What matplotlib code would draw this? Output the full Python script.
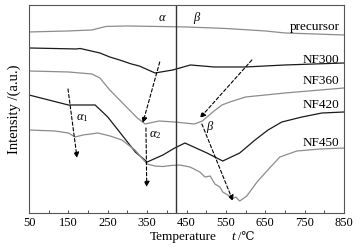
import numpy as np
import matplotlib
matplotlib.use('Agg')
import matplotlib.pyplot as plt

plt.rcParams['font.family'] = ['Liberation Serif', 'DejaVu Serif', 'DejaVu Sans']
plt.rcParams['mathtext.fontset'] = 'custom'
plt.rcParams['mathtext.rm'] = 'Liberation Serif'
plt.rcParams['mathtext.it'] = 'Liberation Serif:italic'

# curves (intensity in arbitrary units)
t_pre = [50, 150, 210, 245, 300, 450, 550, 650, 700, 850]
y_pre = [181, 182, 183, 186.5, 187, 186, 184.5, 182, 180, 178]

t_300 = [50, 170, 180, 230, 255, 280, 310, 330, 370, 415, 460, 520, 600, 700, 850]
y_300 = [165, 164, 164.5, 160, 156, 153, 149, 147, 140, 143, 148, 146, 146, 148, 150]

t_360 = [50, 150, 210, 230, 255, 300, 325, 345, 380, 420, 470, 490, 520, 540, 560, 600, 700, 850]
y_360 = [142, 141, 139, 135, 123, 105, 95, 89, 92, 91, 89, 92, 102, 108, 111, 116, 120, 125]

t_420 = [50, 150, 218, 250, 320, 350, 390, 420, 446, 502, 542, 585, 624, 657, 692, 743, 794, 850]
y_420 = [118, 108, 108, 96, 61, 51, 58, 65, 70, 60, 52, 60, 73, 83, 91, 96, 100, 101]

t_450 = [50, 116, 150, 167, 187, 225, 256, 286, 319, 350, 370, 390, 410, 433, 459, 484, 497,
         510, 522, 535, 542, 555, 565, 575, 585, 603, 629, 654, 687, 730, 789, 850]
y_450 = [83, 82, 80, 76, 78, 80, 77, 73, 63, 49, 47, 46.5, 47.5, 48, 46, 41, 36,
         37, 29, 26, 21, 18, 14, 16, 12, 17, 31, 42, 56, 62, 64, 65]

names = ['precursor', 'NF300', 'NF360', 'NF420', 'NF450']
label_y = [186, 153, 132, 108, 70]
dark = '#1a1a1a'
grey = '#8c8c8c'

fig = plt.figure(figsize=(3.6, 2.48), dpi=100)
ax = fig.add_axes([0.0806, 0.141, 0.875, 0.839])

ax.plot(t_pre, y_pre, color=grey, lw=0.9)
ax.plot(t_300, y_300, color=dark, lw=0.9)
ax.plot(t_360, y_360, color=grey, lw=0.9)
ax.plot(t_420, y_420, color=dark, lw=0.9)
ax.plot(t_450, y_450, color=grey, lw=0.9)

ax.axvline(423, color='#333333', lw=1.0)

for n, yy in zip(names, label_y):
    ax.text(839, yy, n, ha='right', va='center', fontsize=9.5)

# dashed arrows
arrows = [((149, 124), (172, 55)),
          ((382, 151), (339, 90)),
          ((347, 85), (349, 26)),
          ((616, 153), (484, 95)),
          ((489, 89), (568, 12))]
for (x0, y0), (x1, y1) in arrows:
    ax.annotate('', xy=(x1, y1), xytext=(x0, y0),
                arrowprops=dict(arrowstyle='-|>', linestyle=(0, (3, 2)), lw=0.8,
                                color='black', mutation_scale=8, shrinkA=0, shrinkB=0))

ax.text(185, 95, r'$\alpha_1$', fontsize=9, ha='center', va='center')
ax.text(370, 78, r'$\alpha_2$', fontsize=9, ha='center', va='center')
ax.text(509, 86, r'$\beta$', fontsize=9, ha='center', va='center')
ax.text(388, 195, r'$\alpha$', fontsize=9, ha='center', va='center')
ax.text(476, 195, r'$\beta$', fontsize=9, ha='center', va='center')

ax.set_xlim(50, 850)
ax.set_ylim(0, 208)
ax.set_xticks(np.arange(50, 851, 100))
ax.set_xticks(np.arange(100, 851, 100), minor=True)
ax.set_yticks([])
ax.tick_params(axis='x', which='both', direction='in', length=2.5, width=0.6,
               labelsize=9, pad=3, colors='#333333', labelcolor='black')
for s in ax.spines.values():
    s.set_color('#555555')
    s.set_linewidth(0.8)

# x label in pieces: upright word, italic t, then unit
ax.text(0.49, -0.115, 'Temperature', transform=ax.transAxes, ha='center', va='center',
        fontsize=9.5)
ax.text(0.648, -0.115, 't', transform=ax.transAxes, ha='center', va='center',
        fontsize=9.5, style='italic')
ax.text(0.688, -0.115, '/℃', transform=ax.transAxes, ha='center', va='center',
        fontsize=8.5)
ax.set_ylabel('Intensity /(a.u.)', fontsize=10.5, labelpad=6)

fig.savefig('out.png', dpi=100)
